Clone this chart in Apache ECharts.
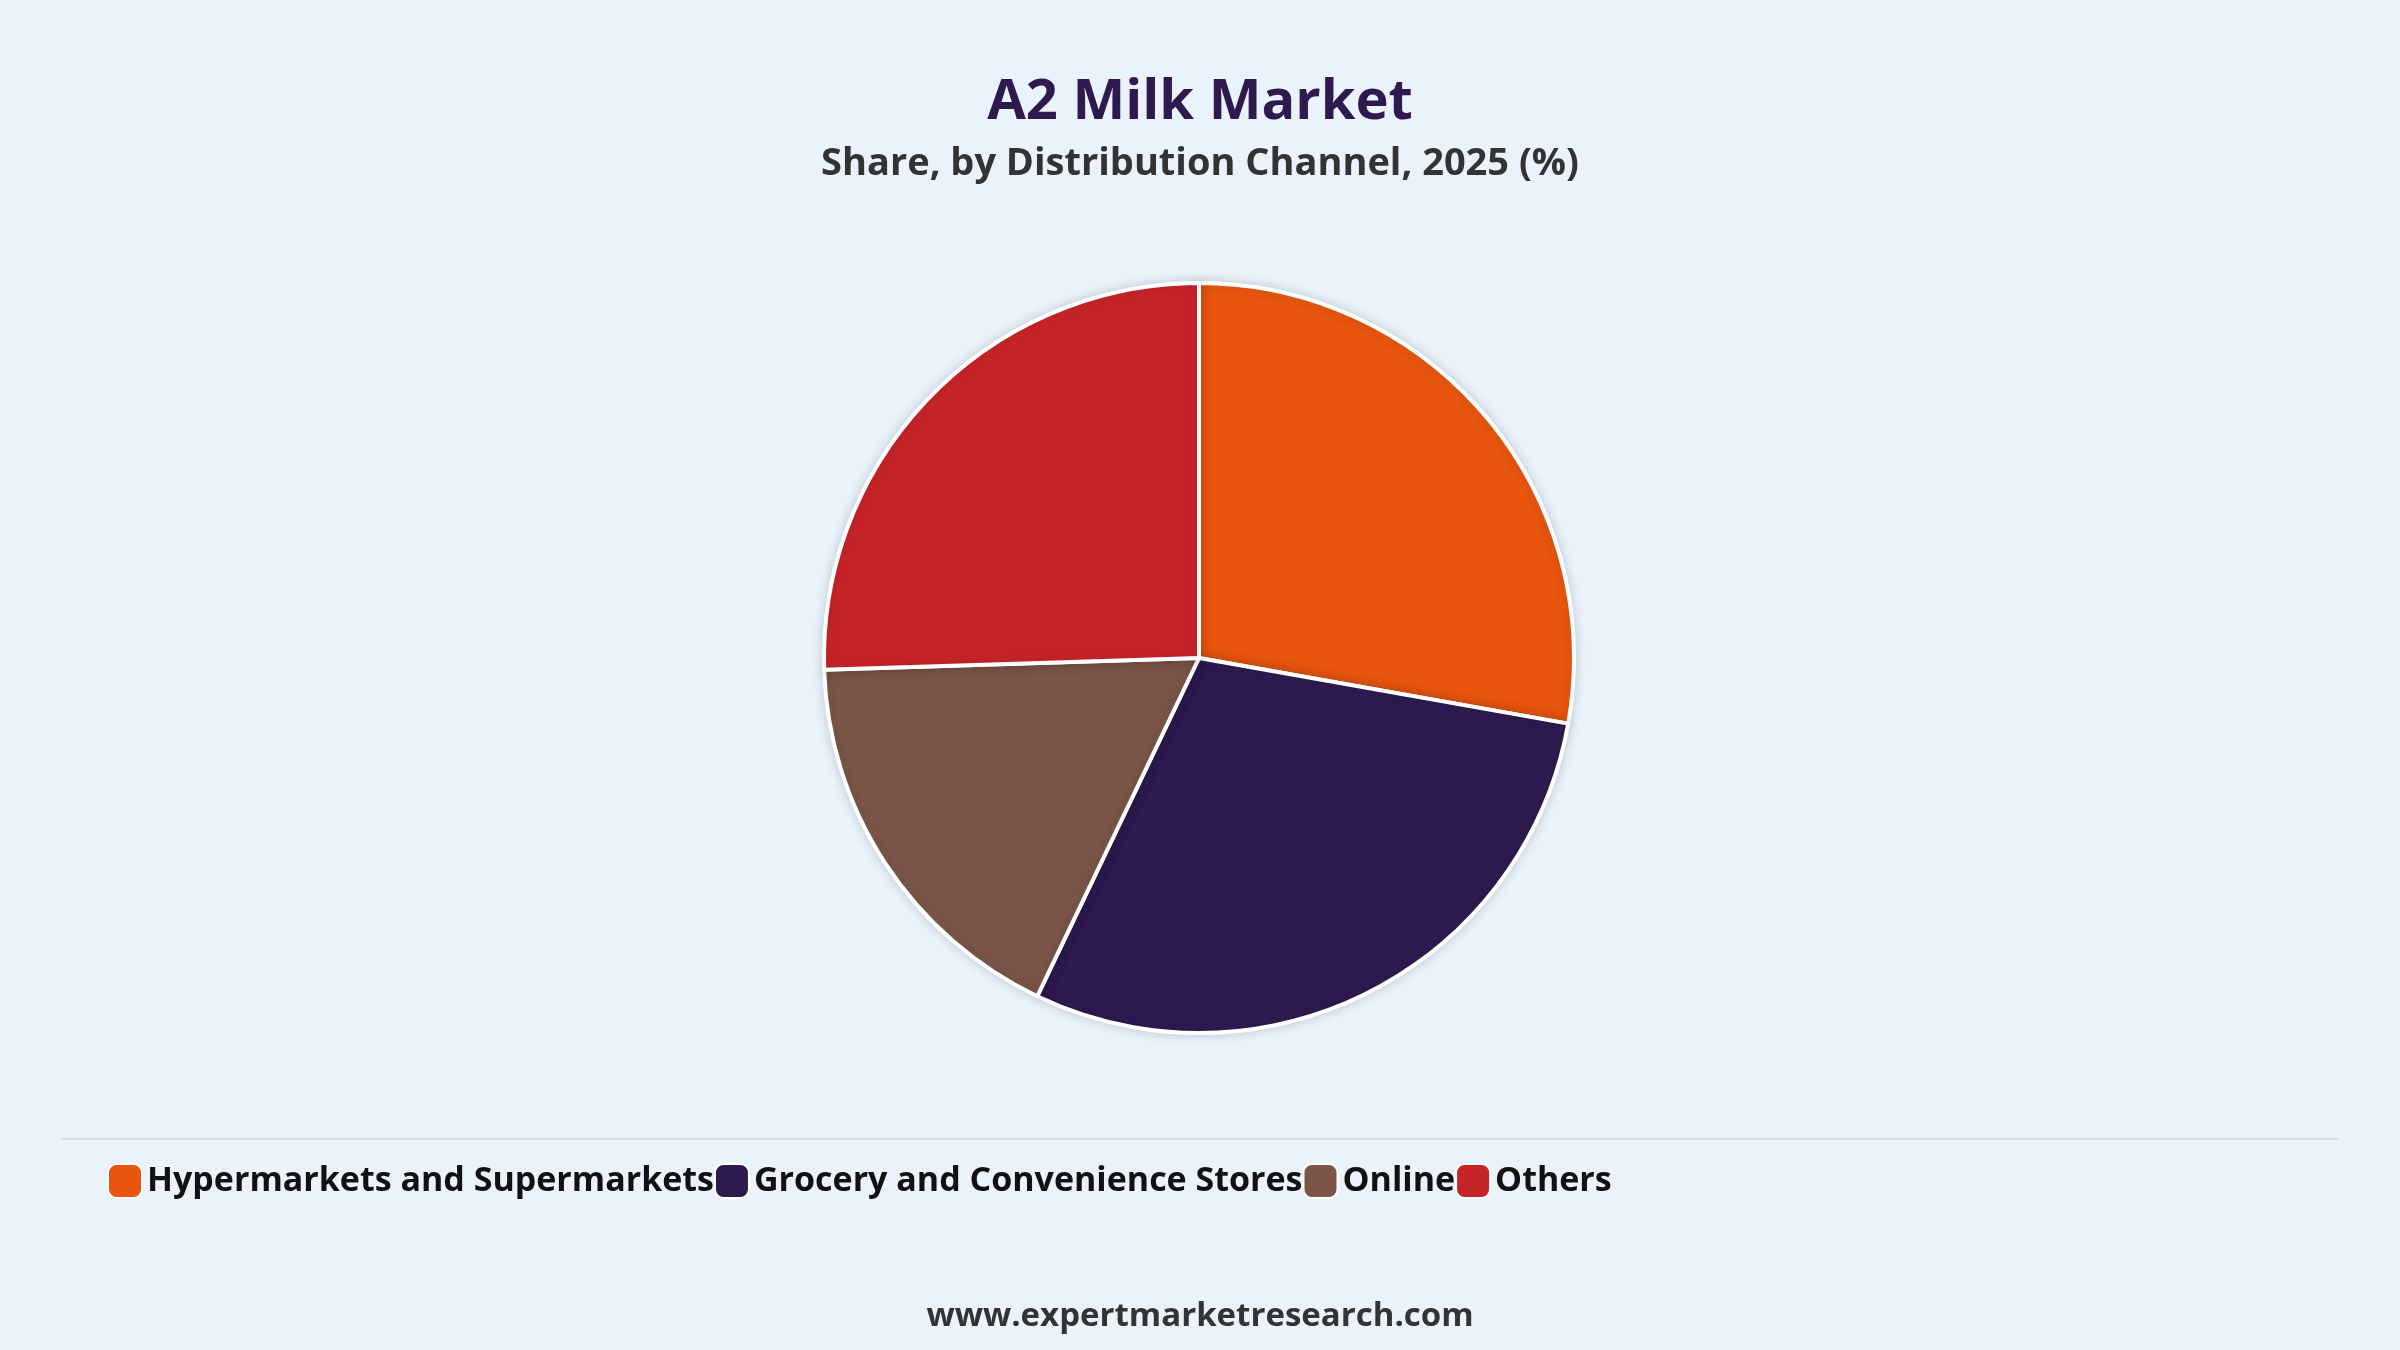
<!DOCTYPE html>
<html><head><meta charset="utf-8">
<script src="https://cdn.jsdelivr.net/npm/echarts@6/dist/echarts.min.js"></script>
<style>html,body{margin:0;padding:0;background:#EAF2FB;}#c{width:2400px;height:1350px;}</style>
</head><body><div id="c"></div>
<script>
const categories = ["Hypermarkets and Supermarkets","Grocery and Convenience Stores","Online","Others"];
const shares = [27.8, 29.3, 17.4, 25.5];
const colors = ["#E8560F","#2E1A4F","#7A5548","#C62428"];
const chart = echarts.init(document.getElementById('c'));
const FONT = '"Open Sans","Noto Sans",sans-serif';
chart.setOption({
  backgroundColor:'#EAF2FB',
  color: colors,
  title:{
    text:'A2 Milk Market', subtext:'Share, by Distribution Channel, 2025 (%)',
    left:'center', top:70, itemGap:14,
    textStyle:{fontFamily:FONT,fontSize:56,fontWeight:'bold',color:'#2E1A4F'},
    subtextStyle:{fontFamily:FONT,fontSize:38,fontWeight:'bold',color:'#333'}
  },
  legend:{
    left:102, top:1158, width:2250, itemWidth:34, itemHeight:34, itemGap:0,
    icon:'roundRect',
    formatter: n => '{a|' + n + '}',
    textStyle:{fontFamily:FONT,fontSize:34,fontWeight:'bold',color:'#111',
      rich:{a:{width:688,fontFamily:FONT,fontSize:34,fontWeight:'bold',color:'#111',height:54}}},
    data:categories
  },
  graphic:[
    {type:'rect',shape:{x:61,y:1138,width:2277,height:2},style:{fill:'#D5DCE4'}},
    {type:'text',left:'center',top:1300,style:{text:'www.expertmarketresearch.com',font:'bold 33px '+FONT,fill:'#333'}}
  ],
  series:[{
    type:'pie', center:[1199,658], radius:[0,375], startAngle:90, clockwise:true,
    label:{show:false}, labelLine:{show:false},
    itemStyle:{borderColor:'#fff',borderWidth:4,shadowBlur:12,shadowColor:'rgba(0,0,0,0.15)'},
    emphasis:{disabled:true},
    data: categories.map((n,i)=>({name:n,value:shares[i]}))
  }]
});
</script></body></html>
